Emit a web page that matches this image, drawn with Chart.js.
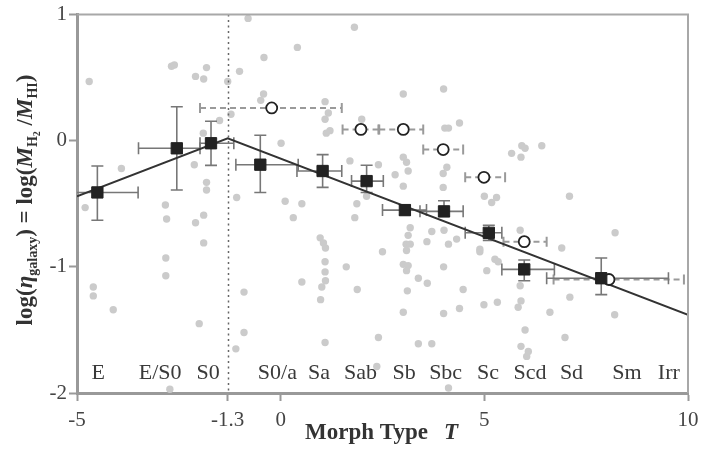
<!DOCTYPE html>
<html>
<head>
<meta charset="utf-8">
<script src="https://cdn.jsdelivr.net/npm/chart.js@4/dist/chart.umd.min.js"></script>
<style>
  html, body { margin: 0; padding: 0; background: #fff; }
  canvas { display: block; }
</style>
</head>
<body>
<canvas id="morphChart" width="710" height="451"></canvas>
<script>
// individual galaxies (grey dots): morph type T and log(M_H2/M_HI)
var galT = [-0.80,-4.70,-2.68,-2.61,-1.82,-2.09,-1.89,-1.01,-0.41,0.41,-1.30,-0.42,-0.49,-1.22,-1.50,-1.90,0.01,-2.12,-3.91,-1.82,
  -1.82,-1.08,-2.83,-2.80,-4.80,-2.09,-1.89,0.11,0.52,0.31,1.81,1.70,1.09,1.17,1.09,1.12,1.21,1.99,3.01,4.00,
  4.03,4.12,4.39,2.40,2.81,3.01,3.09,3.13,3.01,3.99,4.08,3.99,1.87,1.82,2.11,5.00,5.18,5.30,5.92,6.00,
  5.67,5.90,6.41,7.09,0.97,1.05,1.10,1.09,1.09,1.10,1.01,0.52,0.98,1.61,1.88,2.50,3.18,3.13,3.08,3.18,
  3.09,3.01,3.13,3.09,3.11,3.01,3.38,3.60,3.59,3.71,4.01,4.12,4.32,4.00,4.48,4.39,4.00,4.89,4.89,5.06,
  4.99,1.09,2.40,3.38,3.71,4.12,8.21,6.90,7.10,6.61,8.20,6.98,5.88,5.83,5.90,6.00,5.90,6.08,6.04,5.32,
  5.26,5.34,5.88,-4.60,-4.60,-4.11,-2.82,-2.82,-1.89,-2.00,-0.90,-0.90,-1.10,-2.72,2.36];
var galY = [0.97,0.47,0.59,0.60,0.58,0.51,0.49,0.55,0.66,0.74,0.47,0.37,0.32,0.21,0.16,0.06,-0.02,-0.19,-0.22,-0.33,
  -0.39,-0.45,-0.51,-0.62,-0.53,-0.65,-0.59,-0.48,-0.50,-0.61,0.90,-0.16,0.31,0.22,0.17,0.06,0.08,0.17,0.37,0.41,
  0.10,0.10,0.14,-0.19,-0.27,-0.13,-0.17,-0.24,-0.36,-0.26,-0.21,-0.37,-0.50,-0.61,-0.44,-0.44,-0.49,-0.45,-0.04,-0.06,
  -0.10,-0.13,-0.04,-0.44,-0.77,-0.81,-0.85,-0.96,-1.04,-1.11,-1.16,-1.12,-1.26,-1.00,-1.18,-0.88,-0.69,-0.75,-0.82,-0.82,
  -0.87,-0.98,-0.99,-1.03,-1.19,-1.36,-1.09,-1.13,-0.80,-0.72,-0.71,-0.82,-0.78,-1.00,-1.18,-1.33,-1.37,-0.86,-0.88,-1.03,
  -1.30,-1.60,-1.56,-1.61,-1.61,-1.96,-0.73,-0.85,-1.24,-1.36,-1.38,-1.56,-1.15,-1.32,-1.27,-1.50,-1.63,-1.67,-1.71,-1.28,
  -0.94,-0.96,-0.71,-1.16,-1.23,-1.34,-0.93,-1.07,-0.81,-1.45,-1.20,-1.52,-1.65,-1.97,-1.79];

// binned means (black squares) with their error ranges
var binT   = [-4.50,-2.55,-1.71,-0.50,1.03,2.11,3.05,4.01,5.11,5.98,7.87];
var binY   = [-0.41,-0.06,-0.02,-0.19,-0.24,-0.32,-0.55,-0.56,-0.73,-1.02,-1.09];
var binTlo = [-5.50,-3.49,-1.98,-1.10,0.40,1.74,2.50,3.42,4.53,5.43,6.53];
var binThi = [-3.50,-1.98,-1.15,0.43,1.50,2.52,3.58,4.48,5.43,6.72,9.52];
var binYlo = [-0.63,-0.39,-0.195,-0.41,-0.37,-0.41,-0.59,-0.60,-0.79,-1.11,-1.22];
var binYhi = [-0.20,0.27,0.155,0.043,-0.11,-0.194,-0.51,-0.476,-0.67,-0.945,-0.93];

// second sample (open circles) with dashed T ranges
var altT   = [-0.22,1.97,3.01,3.99,4.99,5.98,8.06];
var altY   = [0.26,0.09,0.09,-0.07,-0.29,-0.80,-1.10];
var altTlo = [-1.98,1.52,2.42,3.50,4.53,5.47,6.70];
var altThi = [1.50,2.40,3.50,4.48,5.51,6.53,9.90];

// broken-line fit, peak at T = -1.3
var fitT = [-5, -1.3, 10];
var fitY = [-0.44, 0.02, -1.38];

var xTicks = [-5, -1.3, 0, 5, 10];
var yTicks = [1, 0, -1, -2];
var breakT = -1.3;

var typeNames = ['E','E/S0','S0','S0/a','Sa','Sab','Sb','Sbc','Sc','Scd','Sd','Sm','Irr'];
var typeT = [-4.48,-2.96,-1.78,-0.08,0.94,1.96,3.03,4.05,5.09,6.12,7.14,8.50,9.53];
var typeLabelY = -1.845;

var SERIF = "'Liberation Serif', 'DejaVu Serif', serif";

function pts(xs, ys){ return xs.map(function(v,i){ return {x:v, y:ys[i]}; }); }

// draws a run of text pieces (subscripts etc.) centred on x=0, on the baseline
function richText(ctx, parts){
  var w = 0;
  parts.forEach(function(p){ ctx.font = p.font; w += ctx.measureText(p.t).width; });
  var cx = -w/2;
  parts.forEach(function(p){
    ctx.font = p.font;
    ctx.fillText(p.t, cx, p.dy || 0);
    cx += ctx.measureText(p.t).width;
  });
}

const decor = {
  id: 'decor',
  afterDatasetDraw(chart, args){
    if (args.index !== 0) return;
    const ctx = chart.ctx, a = chart.chartArea, x = chart.scales.x, y = chart.scales.y;
    ctx.save();
    ctx.beginPath(); ctx.rect(a.left, a.top, a.width, a.height); ctx.clip();

    // dotted vertical at the break
    var bx = Math.round(x.getPixelForValue(breakT)) + 0.5;
    ctx.strokeStyle = '#666'; ctx.lineWidth = 1.5; ctx.setLineDash([2, 3.5]);
    ctx.beginPath(); ctx.moveTo(bx, a.top); ctx.lineTo(bx, a.bottom); ctx.stroke();

    // dashed ranges of the open circles
    ctx.strokeStyle = '#9a9a9a'; ctx.lineWidth = 2;
    altT.forEach(function(t, i){
      var py = y.getPixelForValue(altY[i]);
      var x0 = x.getPixelForValue(altTlo[i]), x1 = x.getPixelForValue(altThi[i]);
      ctx.setLineDash([6, 4]);
      ctx.beginPath(); ctx.moveTo(x0, py); ctx.lineTo(x1, py); ctx.stroke();
      ctx.setLineDash([]);
      ctx.beginPath();
      ctx.moveTo(x0, py-5); ctx.lineTo(x0, py+5);
      ctx.moveTo(x1, py-5); ctx.lineTo(x1, py+5);
      ctx.stroke();
    });

    // error bars of the squares
    ctx.setLineDash([]);
    ctx.strokeStyle = '#777'; ctx.lineWidth = 1.6;
    binT.forEach(function(t, i){
      var px = x.getPixelForValue(t), py = y.getPixelForValue(binY[i]);
      var x0 = x.getPixelForValue(binTlo[i]), x1 = x.getPixelForValue(binThi[i]);
      var y0 = y.getPixelForValue(binYlo[i]), y1 = y.getPixelForValue(binYhi[i]);
      ctx.beginPath();
      ctx.moveTo(x0, py); ctx.lineTo(x1, py);
      ctx.moveTo(x0, py-6); ctx.lineTo(x0, py+6);
      ctx.moveTo(x1, py-6); ctx.lineTo(x1, py+6);
      ctx.moveTo(px, y0); ctx.lineTo(px, y1);
      ctx.moveTo(px-6, y0); ctx.lineTo(px+6, y0);
      ctx.moveTo(px-6, y1); ctx.lineTo(px+6, y1);
      ctx.stroke();
    });
    ctx.restore();
  },
  afterDraw(chart){
    const ctx = chart.ctx, a = chart.chartArea, x = chart.scales.x, y = chart.scales.y;
    ctx.save();
    // top and right frame
    ctx.strokeStyle = '#a8a8a8'; ctx.lineWidth = 2;
    ctx.beginPath();
    ctx.moveTo(a.left, a.top); ctx.lineTo(a.right, a.top); ctx.lineTo(a.right, a.bottom);
    ctx.stroke();

    // Hubble type names along the bottom
    ctx.fillStyle = '#3a3a3a';
    ctx.font = '22px ' + SERIF;
    ctx.textAlign = 'center'; ctx.textBaseline = 'middle';
    typeNames.forEach(function(n, i){
      ctx.fillText(n, x.getPixelForValue(typeT[i]), y.getPixelForValue(typeLabelY));
    });

    // x title
    ctx.fillStyle = '#333';
    ctx.textAlign = 'left'; ctx.textBaseline = 'alphabetic';
    ctx.font = 'bold 23px ' + SERIF;
    ctx.fillText('Morph Type', 305, 439);
    ctx.font = 'bold italic 23px ' + SERIF;
    ctx.fillText('T', 444, 439);

    // y title, rotated
    ctx.translate(32, 200);
    ctx.rotate(-Math.PI/2);
    var B = 'bold 23px ' + SERIF, BI = 'bold italic 23px ' + SERIF;
    var S = 'bold 14px ' + SERIF, SS = 'bold 10px ' + SERIF;
    richText(ctx, [
      {t:'log(', font:B}, {t:'η', font:BI}, {t:'galaxy', font:S, dy:5},
      {t:') = log(', font:B}, {t:'M', font:BI}, {t:'H', font:S, dy:5}, {t:'2', font:SS, dy:8},
      {t:' /', font:B}, {t:'M', font:BI}, {t:'HI', font:S, dy:5}, {t:')', font:B}
    ]);
    ctx.restore();
  }
};

new Chart(document.getElementById('morphChart'), {
  type: 'scatter',
  data: {
    datasets: [
      { data: pts(galT, galY), pointRadius: 3.7, pointHoverRadius: 3.7,
        backgroundColor: '#cbcbcb', borderWidth: 0, order: 4 },
      { data: pts(fitT, fitY), showLine: true, borderColor: '#333', borderWidth: 2,
        pointRadius: 0, tension: 0, order: 3 },
      { data: pts(altT, altY), pointRadius: 5.5, pointHoverRadius: 5.5,
        backgroundColor: '#fff', borderColor: '#222', borderWidth: 1.8, order: 2 },
      { data: pts(binT, binY), pointStyle: 'rect', pointRadius: 8, pointHoverRadius: 8,
        backgroundColor: '#222', borderColor: '#222', borderWidth: 1, order: 1 }
    ]
  },
  options: {
    responsive: false,
    devicePixelRatio: 1,
    animation: false,
    events: [],
    layout: { padding: { top: 13, right: 22, bottom: 0, left: 0 } },
    plugins: { legend: { display: false }, tooltip: { enabled: false } },
    scales: {
      x: {
        type: 'linear', min: -5, max: 10,
        afterBuildTicks: function(s){ s.ticks = xTicks.map(function(v){ return {value: v}; }); },
        afterFit: function(s){ s.height = 58; },
        ticks: { color: '#444', padding: 7, maxRotation: 0, autoSkip: false,
          font: { family: SERIF, size: 21 },
          callback: function(v){ return String(v); } },
        grid: { drawOnChartArea: false, tickLength: 8, tickColor: '#999', tickWidth: 2 },
        border: { color: '#999', width: 3 }
      },
      y: {
        type: 'linear', min: -2, max: 1,
        afterBuildTicks: function(s){ s.ticks = yTicks.map(function(v){ return {value: v}; }); },
        afterFit: function(s){ s.width = 77; },
        ticks: { color: '#444', padding: 2,
          font: { family: SERIF, size: 21 },
          callback: function(v){ return String(v); } },
        grid: { drawOnChartArea: false, tickLength: 8, tickColor: '#999', tickWidth: 2 },
        border: { color: '#999', width: 3 }
      }
    }
  },
  plugins: [decor]
});
</script>
</body>
</html>
